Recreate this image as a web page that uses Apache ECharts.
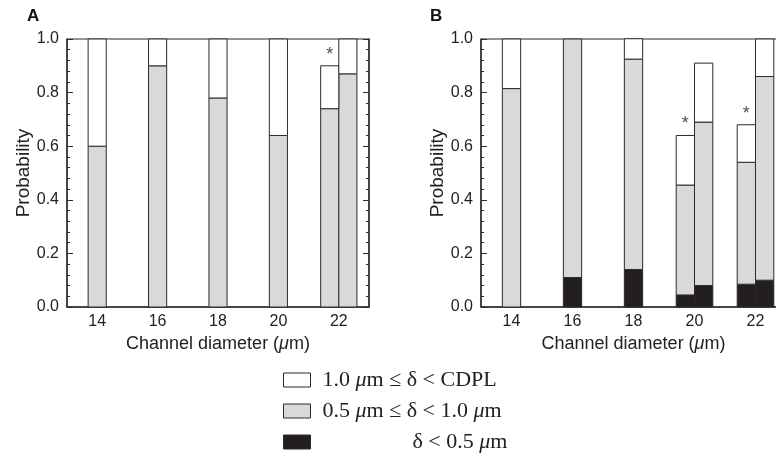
<!DOCTYPE html>
<html>
<head>
<meta charset="utf-8">
<script src="https://cdn.jsdelivr.net/npm/echarts@6/dist/echarts.min.js"></script>
<style>
    html, body { margin: 0; padding: 0; background: #fff; }
    #chart { width: 776px; height: 457px; }
</style>
</head>
<body>
<div id="chart"></div>
<script>
    // panel A: bar positions (channel diameter, um) and segment heights
    var a_x = [14, 16, 18, 20, 21.7, 22.3];
    var a_gray = [0.60, 0.90, 0.78, 0.64, 0.74, 0.87];
    var a_white = [0.40, 0.10, 0.22, 0.36, 0.16, 0.13];
    var a_star = [[21.7, 0.90]];

    // panel B
    var b_x = [14, 16, 18, 19.7, 20.3, 21.7, 22.3];
    var b_black = [0, 0.11, 0.14, 0.045, 0.08, 0.085, 0.10];
    var b_gray = [0.815, 0.89, 0.785, 0.41, 0.61, 0.455, 0.76];
    var b_white = [0.185, 0, 0.076, 0.185, 0.22, 0.14, 0.14];
    var b_star = [[19.7, 0.64], [21.7, 0.68]];

    var names = ['white', 'gray', 'black'];
    var line_col = '#2b2b2b';
    var fills = { white: '#ffffff', gray: '#d8d9db', black: '#231f20' };
    var sans = 'Liberation Sans, Arial, sans-serif';
    var serif = 'Liberation Serif, Times New Roman, serif';
    var bar_w = 0.6; // in axis units

    // stack layers bottom -> top, returns one custom series per layer
    function stacked(idx, xs, layers) {
        var base = xs.map(function () { return 0; });
        var out = [];
        layers.forEach(function (ly) {
            var data = [];
            for (var i = 0; i < xs.length; i++) {
                data.push([xs[i], base[i], base[i] + ly.vals[i]]);
                base[i] += ly.vals[i];
            }
            out.push({
                type: 'custom',
                name: ly.name,
                xAxisIndex: idx,
                yAxisIndex: idx * 2,
                data: data,
                encode: { x: 0, y: [1, 2] },
                itemStyle: { color: fills[ly.name], borderColor: line_col, borderWidth: 1 },
                renderItem: function (params, api) {
                    var y0 = api.value(1), y1 = api.value(2);
                    if (y1 - y0 <= 0) return null;
                    var p0 = api.coord([api.value(0), y0]);
                    var p1 = api.coord([api.value(0), y1]);
                    var w = api.size([bar_w, 0])[0];
                    return {
                        type: 'rect',
                        shape: { x: p0[0] - w / 2, y: p1[1], width: w, height: p0[1] - p1[1] },
                        style: { fill: fills[ly.name], stroke: line_col, lineWidth: 1 }
                    };
                },
                silent: true,
                z: 3
            });
        });
        return out;
    }

    function stars(idx, pts) {
        return {
            type: 'scatter',
            xAxisIndex: idx,
            yAxisIndex: idx * 2,
            data: pts,
            symbolSize: 0,
            silent: true,
            label: {
                show: true,
                position: 'top',
                distance: 2,
                formatter: '*',
                color: '#222',
                fontFamily: sans,
                fontSize: 18
            },
            z: 5
        };
    }

    var grids = [
        { left: 67, top: 39, width: 302, height: 268, outerBoundsMode: 'none', show: true, borderColor: line_col, borderWidth: 1 },
        { left: 481, top: 39, width: 305, height: 268, outerBoundsMode: 'none', show: true, borderColor: line_col, borderWidth: 1 }
    ];

    function xaxis(idx) {
        return {
            type: 'value',
            gridIndex: idx,
            min: 13, max: 23, interval: 1,
            name: '{a|Channel diameter (}{i|μ}{a|m)}',
            nameLocation: 'middle',
            nameGap: 19,
            nameTextStyle: {
                rich: {
                    a: { fontFamily: sans, fontSize: 18, color: '#222' },
                    i: { fontFamily: sans, fontSize: 18, fontStyle: 'italic', color: '#222' }
                }
            },
            axisLine: { show: true, lineStyle: { color: line_col, width: 1.5 } },
            axisTick: { show: false },
            splitLine: { show: false },
            axisLabel: {
                margin: 7,
                color: '#222',
                fontFamily: sans,
                fontSize: 16,
                formatter: function (v) { return v % 2 === 0 ? String(v) : ''; }
            }
        };
    }

    function yaxis(idx, right) {
        return {
            type: 'value',
            gridIndex: idx,
            position: right ? 'right' : 'left',
            min: 0, max: 1, interval: 0.2,
            name: right ? '' : 'Probability',
            nameLocation: 'middle',
            nameGap: 33,
            nameTextStyle: { fontFamily: sans, fontSize: 19, color: '#222' },
            axisLine: { show: true, lineStyle: { color: line_col, width: 1.5 } },
            axisTick: { show: true, inside: true, length: 6, lineStyle: { color: line_col } },
            minorTick: { show: true, splitNumber: 5, length: 3, lineStyle: { color: line_col } },
            splitLine: { show: false },
            axisLabel: {
                show: !right,
                margin: 8,
                color: '#222',
                fontFamily: sans,
                fontSize: 16,
                formatter: function (v) { return v.toFixed(1); }
            }
        };
    }

    var legend_rich = {
        t: { fontFamily: serif, fontSize: 22, color: '#222', lineHeight: 22 },
        i: { fontFamily: serif, fontSize: 22, fontStyle: 'italic', color: '#222', lineHeight: 22 },
        g: { width: 7 },
        w: { width: 97 }
    };

    var series = []
        .concat(stacked(0, a_x, [{ name: 'gray', vals: a_gray }, { name: 'white', vals: a_white }]))
        .concat([stars(0, a_star)])
        .concat(stacked(1, b_x, [{ name: 'black', vals: b_black }, { name: 'gray', vals: b_gray }, { name: 'white', vals: b_white }]))
        .concat([stars(1, b_star)]);

    var option = {
        animation: false,
        backgroundColor: '#fff',
        grid: grids,
        xAxis: [xaxis(0), xaxis(1)],
        yAxis: [yaxis(0, false), yaxis(0, true), yaxis(1, false), yaxis(1, true)],
        legend: {
            orient: 'vertical',
            left: 283,
            top: 369,
            height: 120,
            padding: 0,
            itemWidth: 27,
            itemHeight: 14,
            itemGap: 9,
            icon: 'rect',
            selectedMode: false,
            data: names.map(function (n) {
                return { name: n, itemStyle: { color: fills[n], borderColor: line_col, borderWidth: 1 } };
            }),
            textStyle: { rich: legend_rich },
            formatter: function (n) {
                if (n === 'white') return '{g|}{t|1.0 }{i|μ}{t|m ≤ δ < CDPL}';
                if (n === 'gray') return '{g|}{t|0.5 }{i|μ}{t|m ≤ δ < 1.0 }{i|μ}{t|m}';
                return '{w|}{t|δ < 0.5 }{i|μ}{t|m}';
            }
        },
        graphic: [
            { type: 'text', left: 27, top: 8, style: { text: 'A', font: 'bold 17px ' + sans, fill: '#111' } },
            { type: 'text', left: 430, top: 8, style: { text: 'B', font: 'bold 17px ' + sans, fill: '#111' } }
        ],
        series: series
    };

    var chart = echarts.init(document.getElementById('chart'));
    chart.setOption(option);
</script>
</body>
</html>
